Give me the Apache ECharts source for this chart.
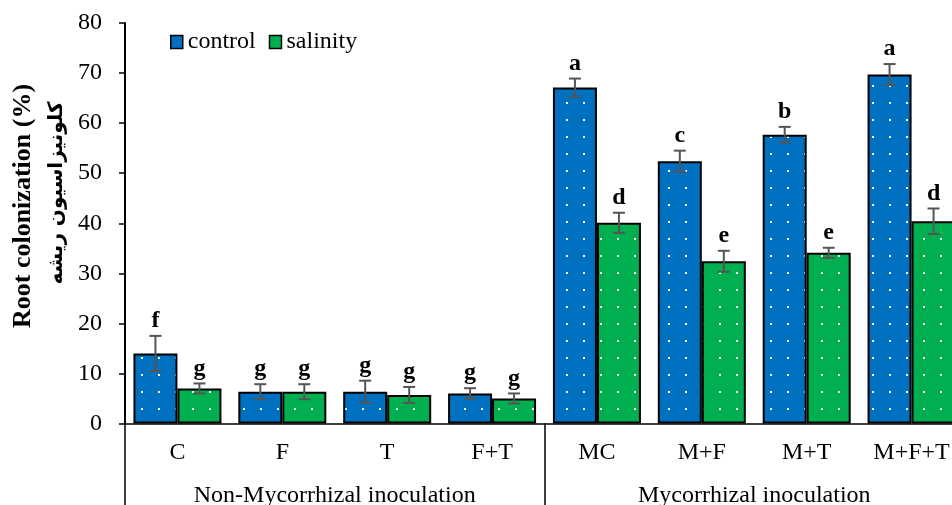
<!DOCTYPE html>
<html><head><meta charset="utf-8">
<script src="https://cdn.jsdelivr.net/npm/echarts@6/dist/echarts.min.js"></script>
<style>html,body{margin:0;padding:0;background:#fff;overflow:hidden;width:952px;height:505px}#c{width:975px;height:505px}</style>
</head><body><div id="c"></div>
<script>
const categories = ['C','F','T','F+T','MC','M+F','M+T','M+F+T'];
const groups = ['Non-Mycorrhizal inoculation','Mycorrhizal inoculation'];
const controlValues = [14.0, 6.35, 6.35, 6.0, 67.1, 52.4, 57.7, 69.7];
const salinityValues = [7.0, 6.35, 5.7, 5.0, 40.1, 32.4, 34.1, 40.4];
const controlErrors = [3.5, 1.5, 2.2, 1.05, 1.8, 2.1, 1.55, 2.1];
const salinityErrors = [1.0, 1.5, 1.6, 1.0, 2.0, 2.1, 1.0, 2.55];
const controlLetters = ['f','g','g','g','a','c','b','a'];
const salinityLetters = ['g','g','g','g','d','e','e','d'];
const yMin = 0, yMax = 80, yStep = 10;

const SERIF = '"Liberation Serif", "Times New Roman", serif';
const BLUE = '#0070C0', GREEN = '#00B050';
const BAR_W = 44;

function dotPattern(color){
  const c = document.createElement('canvas'); c.width = 17; c.height = 17;
  const g = c.getContext('2d');
  g.fillStyle = color; g.fillRect(0,0,17,17);
  g.fillStyle = '#fff'; g.fillRect(5,0,2,2);
  return {image: c, repeat: 'repeat'};
}

function errSeries(name, values, errors, letters, sign){
  return {
    type: 'custom', name: name + '_err', z: 10,
    data: categories.map((c,i)=>[i, values[i], errors[i]]),
    encode: {x:0, y:1},
    renderItem: function(params, api){
      const i = api.value(0), v = api.value(1), e = api.value(2);
      const top = api.coord([i, v + e]);
      const bot = api.coord([i, v - e]);
      const x = top[0] + sign * BAR_W / 2;
      const st = {stroke:'#555555', lineWidth:2};
      return {type:'group', children:[
        {type:'line', shape:{x1:x, y1:top[1], x2:x, y2:bot[1]}, style:st},
        {type:'line', shape:{x1:x-6, y1:top[1], x2:x+6, y2:top[1]}, style:st},
        {type:'line', shape:{x1:x-6, y1:bot[1], x2:x+6, y2:bot[1]}, style:st},
        {type:'text', x:x, y:top[1]-3, style:{text:letters[params.dataIndex], font:'bold 24px ' + SERIF, fill:'#000', textAlign:'center', textVerticalAlign:'bottom'}}
      ]};
    }
  };
}

const chart = echarts.init(document.getElementById('c'));
chart.setOption({
  animation: false,
  backgroundColor: '#fff',
  grid: {left: 125, top: 23, width: 839, height: 400.5, containLabel: false, outerBoundsMode: 'none'},
  legend: {
    left: 165, top: 25, itemWidth: 12, itemHeight: 13, itemGap: 13, icon: 'rect',
    textStyle: {fontFamily: SERIF, fontSize: 24, color: '#000'},
    data: [
      {name:'control', itemStyle:{color:BLUE, borderColor:'#000', borderWidth:1.5}},
      {name:'salinity', itemStyle:{color:GREEN, borderColor:'#000', borderWidth:1.5}}
    ]
  },
  xAxis: [
    {type:'category', data: categories, position:'bottom',
     axisLine:{show:true, lineStyle:{color:'#000', width:1.5}},
     axisTick:{show:false},
     axisLabel:{fontFamily:SERIF, fontSize:24, color:'#000', margin:17, interval:0}},
    {type:'category', data: groups, position:'bottom',
     axisLine:{show:false},
     axisTick:{show:true, length:82, interval:0, lineStyle:{color:'#000', width:1.5}},
     axisLabel:{fontFamily:SERIF, fontSize:24, color:'#000', margin:60, interval:0}}
  ],
  yAxis: {type:'value', min:yMin, max:yMax, interval:yStep,
    axisLine:{show:true, lineStyle:{color:'#000', width:2}},
    axisTick:{show:true, length:6, lineStyle:{color:'#000', width:1.5}},
    splitLine:{show:false},
    axisLabel:{fontFamily:SERIF, fontSize:24, color:'#000', margin:23}},
  graphic: [
    {type:'text', x:23, y:206, rotation:Math.PI/2, style:{text:'Root colonization (%)', font:'bold 26px ' + SERIF, fill:'#000', textAlign:'center', textVerticalAlign:'middle'}},
    {type:'text', x:57, y:193, rotation:Math.PI/2, style:{text:'کلونیزاسیون ریشه', font:'bold 20px "DejaVu Sans"', fill:'#000', textAlign:'center', textVerticalAlign:'middle'}}
  ],
  series: [
    {name:'control', type:'bar', data: controlValues, barWidth: BAR_W, barGap:'0%',
     itemStyle:{color: dotPattern(BLUE), borderColor:'#000', borderWidth:2}},
    {name:'salinity', type:'bar', data: salinityValues, barWidth: BAR_W, barGap:'0%',
     itemStyle:{color: dotPattern(GREEN), borderColor:'#000', borderWidth:2}},
    errSeries('control', controlValues, controlErrors, controlLetters, -1),
    errSeries('salinity', salinityValues, salinityErrors, salinityLetters, 1)
  ]
});
</script></body></html>
